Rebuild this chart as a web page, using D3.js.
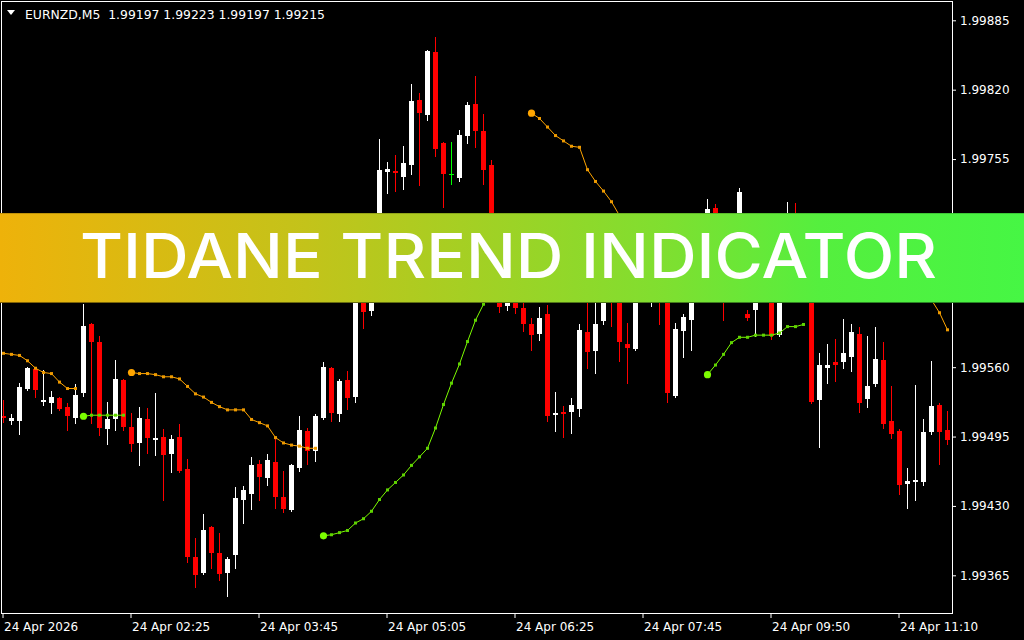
<!DOCTYPE html>
<html><head><meta charset="utf-8">
<script src="https://cdn.jsdelivr.net/npm/d3@7"></script>
<style>
html,body{margin:0;padding:0;background:#000;}
svg{display:block;}
text{font-family:"DejaVu Sans",sans-serif;}
</style></head>
<body>
<svg id="chart" width="1024" height="640"></svg>
<script>
// ---------------- data ----------------
const symbolTitle = "EURNZD,M5  1.99197 1.99223 1.99197 1.99215";
const bannerTitle = "TIDANE TREND INDICATOR";
const priceTicks = [1.99885,1.99820,1.99755,1.99690,1.99625,1.99560,1.99495,1.99430,1.99365];
const timeTickIndex = [0,16,32,48,64,80,96,112];
const timeTickLabels = ["24 Apr 2026","24 Apr 02:25","24 Apr 03:45","24 Apr 05:05","24 Apr 06:25","24 Apr 07:45","24 Apr 09:50","24 Apr 11:10"];

const open = [1.99514,1.99510,1.99510,1.99540,1.99558,1.99527,1.99526,1.99531,1.99523,1.99512,
1.99536,1.99600,1.99584,1.99502,1.99511,1.99548,1.99504,1.99489,1.99511,1.99492,
1.99495,1.99479,1.99495,1.99465,1.99382,1.99367,1.99410,1.99386,1.99367,1.99384,
1.99436,1.99441,1.99469,1.99456,1.99471,1.99438,1.99426,1.99466,1.99500,1.99481,
1.99512,1.99559,1.99516,1.99548,1.99532,1.99643,1.99613,1.99670,1.99743,1.99744,
1.99738,1.99749,1.99810,1.99796,1.99855,1.99770,1.99741,1.99737,1.99777,1.99807,
1.99781,1.99749,1.99679,1.99617,1.99649,1.99615,1.99600,1.99591,1.99610,1.99515,
1.99518,1.99518,1.99521,1.99593,1.99575,1.99603,1.99632,1.99625,1.99582,1.99577,
1.99630,1.99641,1.99645,1.99631,1.99533,1.99594,1.99604,1.99638,1.99673,1.99709,
1.99668,1.99625,1.99630,1.99610,1.99614,1.99639,1.99640,1.99590,1.99659,1.99698,
1.99662,1.99642,1.99529,1.99559,1.99565,1.99565,1.99570,1.99591,1.99530,1.99544,
1.99567,1.99510,1.99500,1.99451,1.99452,1.99452,1.99499,1.99525,1.99501];

const high = [1.99529,1.99516,1.99545,1.99560,1.99560,1.99557,1.99538,1.99532,1.99526,1.99544,
1.99619,1.99601,1.99589,1.99527,1.99567,1.99549,1.99517,1.99523,1.99522,1.99536,
1.99502,1.99496,1.99507,1.99474,1.99400,1.99422,1.99411,1.99405,1.99382,1.99448,
1.99449,1.99476,1.99473,1.99479,1.99495,1.99463,1.99469,1.99514,1.99503,1.99516,
1.99565,1.99560,1.99549,1.99556,1.99651,1.99670,1.99674,1.99774,1.99752,1.99759,
1.99767,1.99825,1.99817,1.99857,1.99869,1.99771,1.99771,1.99782,1.99808,1.99833,
1.99797,1.99754,1.99687,1.99659,1.99657,1.99630,1.99606,1.99616,1.99618,1.99537,
1.99524,1.99531,1.99600,1.99630,1.99640,1.99638,1.99649,1.99641,1.99601,1.99645,
1.99653,1.99655,1.99659,1.99642,1.99601,1.99610,1.99659,1.99681,1.99718,1.99713,
1.99672,1.99640,1.99728,1.99614,1.99651,1.99659,1.99653,1.99672,1.99715,1.99714,
1.99675,1.99653,1.99573,1.99582,1.99586,1.99605,1.99600,1.99598,1.99589,1.99598,
1.99584,1.99542,1.99502,1.99466,1.99543,1.99511,1.99566,1.99526,1.99519];

const low = [1.99509,1.99507,1.99497,1.99539,1.99532,1.99525,1.99517,1.99520,1.99501,1.99508,
1.99533,1.99508,1.99496,1.99488,1.99501,1.99501,1.99481,1.99468,1.99480,1.99478,
1.99436,1.99462,1.99462,1.99377,1.99354,1.99366,1.99372,1.99361,1.99346,1.99372,
1.99414,1.99427,1.99436,1.99450,1.99428,1.99424,1.99425,1.99463,1.99469,1.99472,
1.99511,1.99510,1.99510,1.99521,1.99527,1.99597,1.99609,1.99665,1.99723,1.99725,
1.99727,1.99741,1.99731,1.99792,1.99758,1.99710,1.99732,1.99734,1.99770,1.99766,
1.99732,1.99668,1.99612,1.99614,1.99611,1.99594,1.99576,1.99585,1.99510,1.99500,
1.99495,1.99498,1.99514,1.99559,1.99555,1.99600,1.99599,1.99566,1.99545,1.99576,
1.99622,1.99617,1.99600,1.99527,1.99532,1.99570,1.99576,1.99628,1.99667,1.99660,
1.99604,1.99622,1.99624,1.99604,1.99589,1.99625,1.99586,1.99589,1.99651,1.99645,
1.99627,1.99526,1.99485,1.99545,1.99547,1.99559,1.99556,1.99518,1.99523,1.99542,
1.99503,1.99494,1.99441,1.99428,1.99436,1.99450,1.99497,1.99469,1.99488];

const close = [1.99512,1.99512,1.99541,1.99559,1.99539,1.99529,1.99532,1.99521,1.99514,1.99534,
1.99599,1.99584,1.99503,1.99511,1.99549,1.99504,1.99488,1.99512,1.99494,1.99494,
1.99478,1.99493,1.99463,1.99382,1.99365,1.99407,1.99386,1.99366,1.99380,1.99437,
1.99445,1.99468,1.99457,1.99473,1.99438,1.99427,1.99468,1.99501,1.99481,1.99514,
1.99560,1.99517,1.99547,1.99531,1.99642,1.99612,1.99670,1.99745,1.99746,1.99742,
1.99751,1.99809,1.99798,1.99856,1.99764,1.99741,1.99741,1.99778,1.99806,1.99781,
1.99745,1.99679,1.99616,1.99649,1.99615,1.99600,1.99590,1.99606,1.99514,1.99517,
1.99516,1.99525,1.99595,1.99574,1.99600,1.99627,1.99622,1.99584,1.99578,1.99634,
1.99643,1.99647,1.99629,1.99536,1.99596,1.99607,1.99645,1.99672,1.99708,1.99668,
1.99626,1.99632,1.99724,1.99606,1.99639,1.99632,1.99589,1.99662,1.99697,1.99662,
1.99640,1.99527,1.99562,1.99562,1.99562,1.99573,1.99593,1.99526,1.99542,1.99568,
1.99507,1.99497,1.99450,1.99453,1.99454,1.99499,1.99524,1.99499,1.99492];

// trend indicator value per bar and its state (1 = up / green, -1 = down / orange)
const trendValue = [1.99573,1.99572,1.99571,1.99566,1.99559,1.99555,1.99554,1.99546,1.99540,1.99540,
1.99514,1.99515,1.99515,1.99515,1.99515,1.99515,
1.99555,1.99554,1.99554,1.99553,1.99551,1.99551,1.99549,1.99542,1.99535,1.99532,1.99527,1.99523,1.99520,1.99520,1.99520,1.99511,1.99508,1.99505,1.99494,1.99489,1.99487,1.99486,1.99484,1.99484,
1.99402,1.99403,1.99405,1.99407,1.99414,1.99418,1.99425,1.99436,1.99445,1.99452,1.99459,1.99468,1.99476,1.99484,1.99503,1.99525,1.99545,1.99563,1.99584,1.99604,1.99619,1.99632,1.99641,1.99645,1.99648,1.99650,
1.99798,1.99793,1.99785,1.99777,1.99772,1.99767,1.99766,1.99745,1.99734,1.99725,1.99715,1.99702,1.99694,1.99688,1.99683,1.99679,1.99676,1.99673,1.99670,1.99668,1.99665,1.99662,
1.99553,1.99562,1.99572,1.99583,1.99588,1.99588,1.99590,1.99590,1.99590,1.99592,1.99598,1.99598,1.99600,
1.99690,1.99687,1.99683,1.99677,1.99674,1.99671,1.99664,1.99662,1.99656,1.99654,1.99647,1.99644,1.99637,1.99634,1.99628,1.99623,1.99611,1.99595];

const trendDir = [-1,-1,-1,-1,-1,-1,-1,-1,-1,-1,
1,1,1,1,1,1,
-1,-1,-1,-1,-1,-1,-1,-1,-1,-1,-1,-1,-1,-1,-1,-1,-1,-1,-1,-1,-1,-1,-1,-1,
1,1,1,1,1,1,1,1,1,1,1,1,1,1,1,1,1,1,1,1,1,1,1,1,1,1,
-1,-1,-1,-1,-1,-1,-1,-1,-1,-1,-1,-1,-1,-1,-1,-1,-1,-1,-1,-1,-1,-1,
1,1,1,1,1,1,1,1,1,1,1,1,1,
-1,-1,-1,-1,-1,-1,-1,-1,-1,-1,-1,-1,-1,-1,-1,-1,-1,-1];

// ---------------- drawing ----------------
const svg = d3.select('#chart');
const nBars = open.length;
svg.append('rect').attr('width',1024).attr('height',640).attr('fill','#000');

const x = d3.scaleBand().domain(d3.range(nBars)).range([-1, -1 + 8 * nBars]);
const y = d3.scaleLinear().domain([1.99365, 1.99885]).range([575.3, 20.3]);

const bars = d3.range(nBars).map(i => ({i, o: open[i], h: high[i], l: low[i], c: close[i]}));
const candleColor = d => d.c > d.o ? '#ffffff' : (d.c < d.o ? '#ff0000' : '#00ff00');

const clip = svg.append('defs').append('clipPath').attr('id', 'plotClip');
clip.append('rect').attr('x', 2).attr('y', 2).attr('width', 950).attr('height', 611);

const plot = svg.append('g').attr('shape-rendering', 'crispEdges').attr('clip-path', 'url(#plotClip)');
plot.selectAll('rect.wick').data(bars).join('rect').attr('class', 'wick')
  .attr('x', d => x(d.i) + 4).attr('width', 1)
  .attr('y', d => Math.round(y(d.h)))
  .attr('height', d => Math.max(1, Math.round(y(d.l)) - Math.round(y(d.h)) + 1))
  .attr('fill', candleColor);
plot.selectAll('rect.body').data(bars).join('rect').attr('class', 'body')
  .attr('x', d => x(d.i) + 2).attr('width', 5)
  .attr('y', d => Math.round(y(Math.max(d.o, d.c))))
  .attr('height', d => Math.max(1, Math.round(y(Math.min(d.o, d.c))) - Math.round(y(Math.max(d.o, d.c)))))
  .attr('fill', candleColor);

// trend segments
const segs = [];
let s = 0;
for (let i = 1; i <= nBars; i++) {
  if (i === nBars || trendDir[i] !== trendDir[s]) { segs.push({start: s, end: i - 1, dir: trendDir[s]}); s = i; }
}
const lineCol = d => d === 1 ? '#7cfc00' : '#ffa500';
const dotCol = d => d === 1 ? '#5fd400' : '#ee9a00';
const cx = i => x(i) + 4.5;
const line = d3.line().x(i => cx(i)).y(i => y(trendValue[i]));
const tr = svg.append('g').attr('clip-path', 'url(#plotClip)');
segs.forEach(sg => {
  const idx = d3.range(sg.start, sg.end + 1);
  tr.append('path').datum(idx).attr('d', line).attr('fill', 'none')
    .attr('stroke', lineCol(sg.dir)).attr('stroke-width', 1);
  if (sg.start === 0) {
    // the first segment continues from beyond the left edge
    tr.append('line').attr('x1', 0).attr('x2', cx(0))
      .attr('y1', y(trendValue[0])).attr('y2', y(trendValue[0]))
      .attr('stroke', lineCol(sg.dir)).attr('stroke-width', 1);
  }
  tr.selectAll(null).data(idx).join('rect')
    .attr('x', i => cx(i) - 1.5).attr('y', i => y(trendValue[i]) - 1.5)
    .attr('width', 3).attr('height', 3).attr('fill', dotCol(sg.dir));
  if (sg.start > 0) {
    tr.append('circle').attr('cx', cx(sg.start)).attr('cy', y(trendValue[sg.start]))
      .attr('r', 3.6).attr('fill', lineCol(sg.dir));
  }
});

// frame
svg.append('rect').attr('x', 1.5).attr('y', 1.5).attr('width', 951).attr('height', 612)
  .attr('fill', 'none').attr('stroke', '#ffffff').attr('stroke-width', 1);

// price axis
const ya = svg.append('g').attr('transform', 'translate(952,0)')
  .call(d3.axisRight(y).tickValues(priceTicks).tickSize(4).tickPadding(4).tickFormat(d3.format('.5f')));
ya.select('.domain').remove();
ya.selectAll('line').attr('stroke', '#ffffff');
ya.selectAll('text').attr('fill', '#ffffff').style('font-size', '12px').style('font-family', '"DejaVu Sans",sans-serif');

// time axis
const xa = svg.append('g').attr('transform', 'translate(0,613)')
  .call(d3.axisBottom(x).tickValues(timeTickIndex).tickSize(5).tickPadding(4)
    .tickFormat(d => timeTickLabels[timeTickIndex.indexOf(d)]));
xa.select('.domain').remove();
xa.selectAll('line').attr('stroke', '#ffffff');
xa.selectAll('text').attr('fill', '#ffffff').attr('text-anchor', 'start').attr('x', 1)
  .style('font-size', '12px').style('font-family', '"DejaVu Sans",sans-serif');

// header
svg.append('path').attr('d', 'M7,10 L15,10 L11,15 Z').attr('fill', '#ffffff');
svg.append('text').attr('x', 25).attr('y', 19).attr('fill', '#ffffff')
  .style('font-size', '12.4px')
  .text(symbolTitle.replace(/  /g, ' \u00a0'));

// banner
const grad = svg.select('defs').append('linearGradient').attr('id', 'bannerGrad')
  .attr('x1', 0).attr('x2', 1).attr('y1', 0).attr('y2', 0);
[[0, '#eeb20a'], [0.3, '#c3c31a'], [0.5, '#9cd326'], [0.65, '#7fdf30'], [0.8, '#55ef3e'], [1, '#46f644']]
  .forEach(([o, c]) => grad.append('stop').attr('offset', o).attr('stop-color', c));
svg.append('rect').attr('x', 0).attr('y', 213).attr('width', 1024).attr('height', 90).attr('fill', 'url(#bannerGrad)');
svg.append('rect').attr('x', 0).attr('y', 213).attr('width', 1024).attr('height', 1).attr('fill', 'rgba(0,0,0,0.18)');
svg.append('rect').attr('x', 0).attr('y', 302).attr('width', 1024).attr('height', 1).attr('fill', 'rgba(0,0,0,0.45)');
svg.append('text').attr('x', 80).attr('y', 278).attr('fill', '#ffffff')
  .attr('textLength', 857).attr('lengthAdjust', 'spacingAndGlyphs')
  .style('font-family', 'Inter, "Open Sans", sans-serif').style('font-weight', 500).style('font-size', '62px')
  .text(bannerTitle);
</script>
</body></html>
